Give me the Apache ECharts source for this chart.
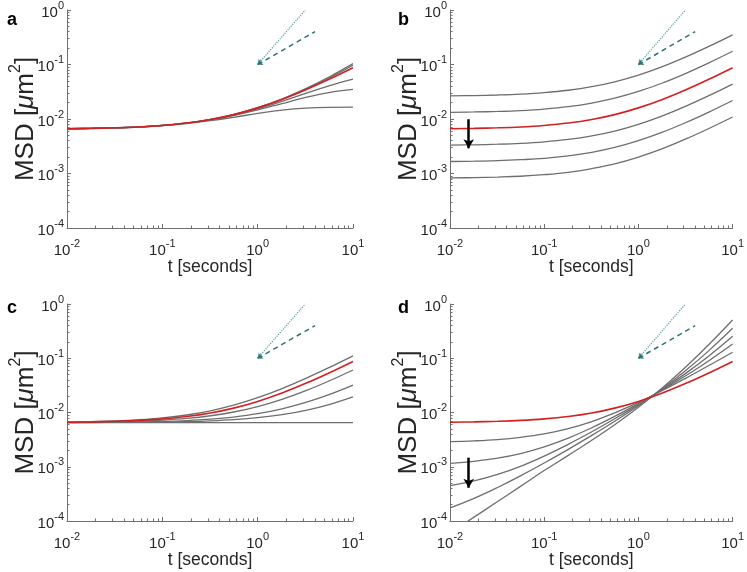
<!DOCTYPE html>
<html><head><meta charset="utf-8">
<script src="https://cdn.jsdelivr.net/npm/echarts@6/dist/echarts.min.js"></script>
<style>html,body{margin:0;padding:0;background:#fff}#c{width:747px;height:572px}</style>
</head><body><div id="c"></div>
<script>
// time samples (seconds)
const tValues = [0.01, 0.018, 0.032, 0.056, 0.1, 0.18, 0.32, 0.56, 1, 1.8, 3.2, 5.6, 10];
// reference (red) MSD curve, same in all panels
const redCurve = [0.00663, 0.00673, 0.00689, 0.00715, 0.00762, 0.00843, 0.0098, 0.01204, 0.016, 0.0229, 0.0345, 0.0536, 0.0874];
// panel a: gray curves
const panelAGray = [
  [0.00663, 0.00673, 0.00689, 0.00715, 0.00762, 0.00843, 0.0098, 0.01205, 0.0161, 0.0233, 0.0362, 0.0590, 0.1040],
  [0.00663, 0.00673, 0.00689, 0.00715, 0.00762, 0.00843, 0.0098, 0.01204, 0.0160, 0.0231, 0.0355, 0.0565, 0.0970],
  [0.00663, 0.00673, 0.00689, 0.00715, 0.00761, 0.0084, 0.00972, 0.01182, 0.01537, 0.02107, 0.0295, 0.0405, 0.0538],
  [0.00663, 0.00673, 0.00688, 0.00714, 0.0076, 0.00837, 0.00963, 0.01157, 0.01466, 0.01919, 0.02482, 0.03049, 0.03485],
  [0.00663, 0.00672, 0.00688, 0.00713, 0.00756, 0.00826, 0.00931, 0.01075, 0.01263, 0.01456, 0.01589, 0.01641, 0.0165]
];
// panel b: gray curves
const panelBGray = [
  [0.02652, 0.02692, 0.02756, 0.0286, 0.03048, 0.03372, 0.0392, 0.04816, 0.064, 0.0916, 0.138, 0.2144, 0.3496],
  [0.01326, 0.01346, 0.01378, 0.0143, 0.01524, 0.01686, 0.0196, 0.02408, 0.032, 0.0458, 0.069, 0.1072, 0.1748],
  [0.003315, 0.003365, 0.003445, 0.003575, 0.00381, 0.004215, 0.0049, 0.00602, 0.008, 0.01145, 0.01725, 0.0268, 0.0437],
  [0.00166, 0.00168, 0.00172, 0.00179, 0.0019, 0.00211, 0.00245, 0.00301, 0.004, 0.00573, 0.00863, 0.0134, 0.02185],
  [0.00083, 0.00084, 0.00086, 0.00089, 0.00095, 0.00105, 0.00123, 0.0015, 0.002, 0.00286, 0.00431, 0.0067, 0.0109]
];
// panel c: gray curves
const panelCGray = [
  [0.00667, 0.00679, 0.0070, 0.00734, 0.00794, 0.00899, 0.01076, 0.01365, 0.01876, 0.02766, 0.0426, 0.0673, 0.1109],
  [0.00659, 0.00665, 0.00676, 0.00694, 0.00725, 0.00779, 0.00871, 0.01021, 0.01287, 0.01749, 0.02526, 0.03806, 0.0607],
  [0.00654, 0.00657, 0.00662, 0.00671, 0.00685, 0.00711, 0.00754, 0.00825, 0.00949, 0.01167, 0.01532, 0.02134, 0.03198],
  [0.00652, 0.00654, 0.00656, 0.0066, 0.00668, 0.00681, 0.00703, 0.00739, 0.00802, 0.00912, 0.01098, 0.01404, 0.01944],
  [0.0065, 0.0065, 0.0065, 0.0065, 0.0065, 0.0065, 0.0065, 0.0065, 0.0065, 0.0065, 0.0065, 0.0065, 0.0065]
];
// panel d: gray curves
const panelDGray = [
  [0.0029, 0.003, 0.00317, 0.00348, 0.00403, 0.00504, 0.0068, 0.00983, 0.01537, 0.02545, 0.0431, 0.0734, 0.1288],
  [0.00115, 0.00126, 0.00144, 0.00175, 0.00233, 0.00338, 0.00524, 0.00848, 0.01457, 0.02616, 0.04802, 0.09022, 0.183],
  [0.00045, 0.000549, 0.000723, 0.00102, 0.001575, 0.00259, 0.00441, 0.00765, 0.01398, 0.02678, 0.05319, 0.1103, 0.254],
  [0.000174, 0.000261, 0.000415, 0.000679, 0.00117, 0.00209, 0.00378, 0.0069, 0.01335, 0.02755, 0.06002, 0.1383, 0.356],
  [0.00006, 0.000118, 0.000228, 0.000435, 0.00085, 0.00162, 0.00308, 0.00596, 0.0125, 0.0286, 0.0699, 0.179, 0.507]
];
// slope guide lines and arrows (data coordinates)
const refSteep = [[1, 0.1], [3.16, 1]];
const refShallow = [[1, 0.1], [4, 0.4]];
const panelArrows = [
  [[11.5, 0.0615], [11.5, 0.0223]],
  [[0.0158, 0.0099], [0.0158, 0.0029]],
  [[11.5, 0.0142], [11.5, 0.0485]],
  [[0.0158, 0.00147], [0.0158, 0.00041]]
];
const panelLetters = ['a', 'b', 'c', 'd'];
const xRange = [0.01, 10];
const yRange = [1e-4, 1];
const xMinorTicks = [0.02,0.03,0.04,0.05,0.06,0.07,0.08,0.09,0.2,0.3,0.4,0.5,0.6,0.7,0.8,0.9,2,3,4,5,6,7,8,9];
const yMinorTicks = [2e-4,3e-4,4e-4,5e-4,6e-4,7e-4,8e-4,9e-4,0.002,0.003,0.004,0.005,0.006,0.007,0.008,0.009,0.02,0.03,0.04,0.05,0.06,0.07,0.08,0.09,0.2,0.3,0.4,0.5,0.6,0.7,0.8,0.9];
const xTitle = 't [seconds]';

const FONT = 'Liberation Sans, Arial, sans-serif';
const TXT = '#262626';
const AXC = '#6f6f6f';
const GRAY = '#6e6e6e';
const RED = '#d42020';

const grids = [
  {left: 67, top: 10, width: 286, height: 218},
  {left: 450, top: 10, width: 286, height: 218},
  {left: 67, top: 304, width: 286, height: 217},
  {left: 450, top: 304, width: 286, height: 217}
];
const letterPos = [[7, 11], [398, 11], [7, 299], [398, 299]];

function expLabel(v) {
  const e = Math.round(Math.log10(v));
  return '{b|10}{s|' + (e < 0 ? '-' : '') + Math.abs(e) + '}';
}
const labelRich = {
  b: {fontSize: 15, color: TXT, fontFamily: FONT, lineHeight: 20, verticalAlign: 'bottom'},
  s: {fontSize: 11, color: TXT, fontFamily: FONT, lineHeight: 10, verticalAlign: 'top'}
};

const xAxis = [], yAxis = [], series = [];
grids.forEach((g, i) => {
  xAxis.push({
    type: 'log', gridIndex: i, min: xRange[0], max: xRange[1], position: 'bottom',
    name: xTitle, nameLocation: 'middle', nameGap: 30, nameMoveOverlap: false,
    nameTextStyle: {fontSize: 17.5, color: TXT, fontFamily: FONT},
    axisLine: {show: true, lineStyle: {color: AXC, width: 1}},
    axisTick: {show: true, inside: true, length: 4, lineStyle: {color: AXC}},
    axisLabel: {formatter: expLabel, rich: labelRich, margin: 10},
    splitLine: {show: false}, minorTick: {show: false}
  });
  xAxis.push({
    type: 'log', gridIndex: i, min: xRange[0], max: xRange[1], position: 'bottom',
    axisLine: {show: false},
    axisTick: {show: true, inside: true, length: 2.5, customValues: xMinorTicks, lineStyle: {color: AXC}},
    axisLabel: {show: false}, splitLine: {show: false}
  });
  yAxis.push({
    type: 'log', gridIndex: i, min: yRange[0], max: yRange[1], position: 'left',
    name: '{n|MSD [}{mu|μ}{n|m}{ns|2}{n|]}', nameLocation: 'middle', nameGap: 28, nameMoveOverlap: false,
    nameTextStyle: {
      rich: {
        n: {fontSize: 26, color: TXT, fontFamily: FONT, lineHeight: 31, verticalAlign: 'bottom'},
        mu: {fontSize: 26, color: TXT, fontFamily: FONT, fontStyle: 'italic', lineHeight: 31, verticalAlign: 'bottom'},
        ns: {fontSize: 16, color: TXT, fontFamily: FONT, lineHeight: 19, verticalAlign: 'top'}
      }
    },
    axisLine: {show: true, lineStyle: {color: AXC, width: 1}},
    axisTick: {show: true, inside: true, length: 4, lineStyle: {color: AXC}},
    axisLabel: {formatter: expLabel, rich: labelRich, margin: 3},
    splitLine: {show: false}, minorTick: {show: false}
  });
  yAxis.push({
    type: 'log', gridIndex: i, min: yRange[0], max: yRange[1], position: 'left',
    axisLine: {show: false},
    axisTick: {show: true, inside: true, length: 2.5, customValues: yMinorTicks, lineStyle: {color: AXC}},
    axisLabel: {show: false}, splitLine: {show: false}
  });
});

const grayPanels = [panelAGray, panelBGray, panelCGray, panelDGray];
grayPanels.forEach((curves, i) => {
  curves.forEach((vals, k) => {
    series.push({
      type: 'line', xAxisIndex: 2 * i, yAxisIndex: 2 * i, smooth: 0.4, showSymbol: false, silent: true,
      lineStyle: {color: GRAY, width: 1.3}, z: 2,
      data: tValues.map((t, j) => [t, vals[j]])
    });
  });
  series.push({
    type: 'line', xAxisIndex: 2 * i, yAxisIndex: 2 * i, smooth: 0.4, showSymbol: false, silent: true,
    lineStyle: {color: RED, width: 1.6}, z: 3, clip: false,
    data: tValues.map((t, j) => [t, redCurve[j]]),
    markLine: {
      silent: true, animation: false, label: {show: false},
      data: [
        [{coord: refSteep[0], symbol: 'arrow', symbolSize: 5, lineStyle: {color: '#4f9e9e', type: 'dotted', width: 1.2}},
         {coord: refSteep[1], symbol: 'none'}],
        [{coord: refShallow[0], symbol: 'arrow', symbolSize: 5, lineStyle: {color: '#2e7272', type: [5, 4], width: 1.5}},
         {coord: refShallow[1], symbol: 'none'}],
        [{coord: panelArrows[i][0], symbol: 'none', lineStyle: {color: '#000', type: 'solid', width: 2.5}},
         {coord: panelArrows[i][1], symbol: 'arrow', symbolSize: [8, 9]}]
      ]
    }
  });
});

const chart = echarts.init(document.getElementById('c'), null, {renderer: 'canvas'});
chart.setOption({
  animation: false,
  backgroundColor: '#fff',
  title: panelLetters.map((l, i) => ({
    text: l, left: letterPos[i][0], top: letterPos[i][1], padding: 0,
    textStyle: {fontSize: 18, fontWeight: 'bold', color: '#000', fontFamily: FONT}
  })),
  grid: grids,
  xAxis: xAxis,
  yAxis: yAxis,
  series: series
});
</script></body></html>
